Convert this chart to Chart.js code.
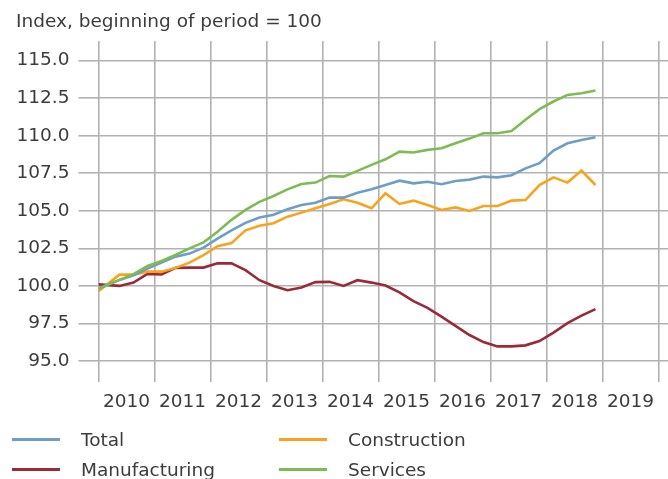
<!DOCTYPE html>
<html>
<head>
<meta charset="utf-8">
<script src="https://cdn.jsdelivr.net/npm/chart.js@4.4.1/dist/chart.umd.min.js"></script>
<style>
  html, body { margin: 0; padding: 0; background: #ffffff; }
  #wrap { position: relative; width: 668px; height: 479px; overflow: hidden; font-family: "DejaVu Sans", sans-serif; color: #3c3c3c; }
  #c { position: absolute; left: 0; top: 0; }
  #title { position: absolute; left: 16px; top: 10px; font-size: 18.5px; white-space: nowrap; }
  .item { position: absolute; display: flex; align-items: center; font-size: 18.5px; white-space: nowrap; height: 24px; }
  .swatch { width: 48px; height: 3px; margin-right: 21px; }
</style>
</head>
<body>
<div id="wrap">
  <canvas id="c" width="668" height="479"></canvas>
  <div id="title">Index, beginning of period = 100</div>
  <div id="legend"></div>
</div>
<script>
// ---- Data ----
const yearLabels = ['2010','2011','2012','2013','2014','2015','2016','2017','2018','2019'];
const quarters = [
  '2010Q1','2010Q2','2010Q3','2010Q4','2011Q1','2011Q2','2011Q3','2011Q4',
  '2012Q1','2012Q2','2012Q3','2012Q4','2013Q1','2013Q2','2013Q3','2013Q4',
  '2014Q1','2014Q2','2014Q3','2014Q4','2015Q1','2015Q2','2015Q3','2015Q4',
  '2016Q1','2016Q2','2016Q3','2016Q4','2017Q1','2017Q2','2017Q3','2017Q4',
  '2018Q1','2018Q2','2018Q3','2018Q4'
];
const total = [
  99.84,100.4,100.7,101.15,101.55,101.95,102.15,102.55,
  103.15,103.7,104.2,104.55,104.74,105.1,105.39,105.54,
  105.88,105.88,106.21,106.43,106.72,107.01,106.83,106.94,
  106.77,106.99,107.08,107.28,107.23,107.37,107.83,108.17,
  109.01,109.5,109.72,109.9
];
const construction = [
  99.65,100.75,100.75,100.95,100.95,101.2,101.55,102.05,
  102.65,102.85,103.7,104.0,104.17,104.61,104.88,105.17,
  105.46,105.77,105.54,105.17,106.17,105.46,105.68,105.39,
  105.06,105.23,104.99,105.32,105.32,105.68,105.72,106.72,
  107.23,106.88,107.68,106.72
];
const manufacturing = [
  100.1,100.0,100.22,100.8,100.76,101.2,101.22,101.22,
  101.5,101.5,101.05,100.38,99.99,99.71,99.89,100.25,
  100.27,100.0,100.38,100.22,100.02,99.57,98.99,98.54,
  97.95,97.34,96.73,96.26,95.97,95.97,96.04,96.33,
  96.89,97.52,98.02,98.45
];
const services = [
  99.8,100.4,100.78,101.33,101.66,102.06,102.5,102.9,
  103.6,104.4,105.06,105.6,105.99,106.43,106.79,106.88,
  107.32,107.28,107.66,108.06,108.43,108.94,108.88,109.06,
  109.17,109.5,109.81,110.17,110.17,110.32,111.06,111.77,
  112.28,112.72,112.83,113.01
];
const yTickValues = [95, 97.5, 100, 102.5, 105, 107.5, 110, 112.5, 115];
const seriesNames = ['Total', 'Construction', 'Manufacturing', 'Services'];
const seriesColors = ['#6c9ec8', '#f9a31d', '#9a2a39', '#7fbb55'];
const seriesValues = [total, construction, manufacturing, services];

// Quarter label -> position on a year axis (first value = beginning of period,
// others at the middle of their quarter).
function quarterPos(label, i) {
  const yr = parseInt(label.slice(0, 4), 10);
  const q = parseInt(label.slice(5), 10);
  return i === 0 ? yr : yr + (q - 0.5) / 4;
}

const datasets = seriesNames.map((name, s) => ({
  label: name,
  data: quarters.map((q, i) => ({ x: quarterPos(q, i), y: seriesValues[s][i] })),
  borderColor: seriesColors[s],
  backgroundColor: seriesColors[s],
  borderWidth: 2.6,
  pointRadius: 0,
  tension: 0,
  fill: false
}));
// draw order: manufacturing, construction, total, services on top
const drawOrder = { 'Total': 2, 'Construction': 3, 'Manufacturing': 4, 'Services': 1 };
datasets.forEach(d => d.order = drawOrder[d.label]);

const firstYear = parseInt(yearLabels[0], 10);
const gridColor = '#b2b2b2';
const tickFont = { family: 'DejaVu Sans', size: 18.5 };

new Chart(document.getElementById('c'), {
  type: 'line',
  data: { datasets },
  options: {
    responsive: false,
    animation: false,
    devicePixelRatio: 1,
    layout: { padding: { top: 41, right: 0, bottom: 57, left: 0 } },
    plugins: { legend: { display: false }, tooltip: { enabled: false } },
    scales: {
      x: {
        type: 'linear',
        min: firstYear,
        max: firstYear + 10.17,
        afterBuildTicks: axis => {
          axis.ticks = Array.from({ length: yearLabels.length + 1 }, (_, i) => ({ value: firstYear + i }));
        },
        afterFit: axis => { axis.height = 40; },
        grid: { color: gridColor, lineWidth: 1.6, drawTicks: false },
        border: { display: false },
        ticks: {
          autoSkip: false,
          maxRotation: 0,
          labelOffset: 28,
          padding: 9,
          color: '#3c3c3c',
          font: tickFont,
          callback: v => {
            const idx = Math.round(v - firstYear);
            return idx < yearLabels.length ? yearLabels[idx] : '';
          }
        }
      },
      y: {
        min: 93.6,
        max: 116.31,
        afterBuildTicks: axis => { axis.ticks = yTickValues.map(v => ({ value: v })); },
        afterFit: axis => { axis.width = 98.5; },
        grid: { color: gridColor, lineWidth: 1.6, tickLength: 20 },
        border: { display: false },
        ticks: {
          padding: 9,
          color: '#3c3c3c',
          font: tickFont,
          callback: v => Number(v).toFixed(1)
        }
      }
    }
  }
});

// HTML legend, two columns
const legend = document.getElementById('legend');
const colX = [12, 279];
const rowY = [427, 457];
seriesNames.forEach((name, i) => {
  const el = document.createElement('div');
  el.className = 'item';
  el.style.left = colX[i % 2] + 'px';
  el.style.top = rowY[Math.floor(i / 2)] + 'px';
  const sw = document.createElement('span');
  sw.className = 'swatch';
  sw.style.background = seriesColors[i];
  const tx = document.createElement('span');
  tx.textContent = name;
  el.appendChild(sw);
  el.appendChild(tx);
  legend.appendChild(el);
});
</script>
</body>
</html>
